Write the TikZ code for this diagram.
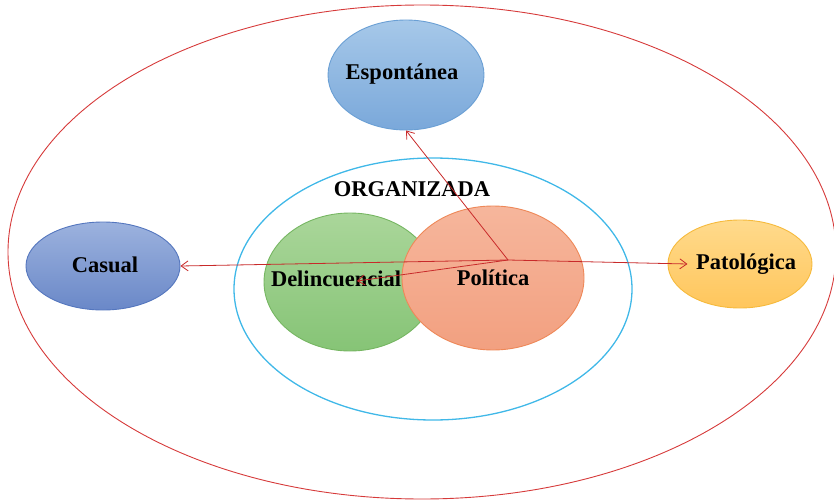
\documentclass[tikz,border=0pt]{standalone}
\usepackage{fontspec}
\setmainfont{Liberation Serif}
\usetikzlibrary{shapes.geometric,arrows.meta}

\definecolor{rimred}{RGB}{214,58,58}
\definecolor{rimcyan}{RGB}{64,184,232}
\definecolor{arrred}{RGB}{200,42,42}

\tikzset{
  blob/.style={ellipse, inner sep=0pt, line width=0.9pt},
  lbl/.style={font=\fontsize{22.5}{26}\selectfont\bfseries, text=black},
  arr/.style={arrred, line width=0.8pt, -{Straight Barb[length=7pt,width=10pt]}}
}

\begin{document}
\begin{tikzpicture}[x=1pt,y=-1pt]
\useasboundingbox (0,0) rectangle (834,500);
% outer rings
\draw[rimred, line width=0.9pt] (422,252) ellipse [x radius=414, y radius=247];
\draw[rimcyan, line width=1.3pt] (433,289) ellipse [x radius=199, y radius=131];
% outer ellipses
\node[blob, draw={rgb,255:red,106;green,159;blue,212}, top color={rgb,255:red,166;green,200;blue,233},
  bottom color={rgb,255:red,122;green,168;blue,218}, minimum width=156pt, minimum height=110pt] (esp) at (406,75) {};
\node[blob, draw={rgb,255:red,84;green,118;blue,190}, top color={rgb,255:red,156;green,178;blue,222},
  bottom color={rgb,255:red,106;green,136;blue,200}, minimum width=154pt, minimum height=88pt] (cas) at (103,266) {};
\node[blob, draw={rgb,255:red,246;green,186;blue,60}, top color={rgb,255:red,255;green,218;blue,140},
  bottom color={rgb,255:red,255;green,198;blue,92}, minimum width=144pt, minimum height=88pt] (pat) at (740,264) {};
% inner ellipses
\node[blob, draw={rgb,255:red,118;green,182;blue,98}, top color={rgb,255:red,170;green,214;blue,154},
  bottom color={rgb,255:red,134;green,196;blue,118}, minimum width=172pt, minimum height=138pt] (del) at (350,282) {};
\node[blob, draw={rgb,255:red,238;green,136;blue,88}, top color={rgb,255:red,246;green,182;blue,156},
  bottom color={rgb,255:red,242;green,160;blue,128}, minimum width=182pt, minimum height=144pt] (pol) at (493,278) {};
% labels
\node[lbl] (esplbl) at (402,74) {Espontánea};
\node[lbl] (caslbl) at (105,265) {Casual};
\node[lbl] (patlbl) at (746,264) {Patológica};
\node[lbl] (orglbl) at (412,189) {ORGANIZADA};
\node[lbl] (dellbl) at (336,279) {Delincuencial};
\node[lbl] (pollbl) at (493,278) {Política};
% arrows
\coordinate (hub) at (508,260);
\draw[arr] (hub) -- (esp.south);
\draw[arr] (hub) -- (cas.east);
\draw[arr] (hub) -- ([xshift=-5pt]patlbl.west);
\draw[arr, shorten >=7pt] (hub) -- (del.center);
\end{tikzpicture}
\end{document}
